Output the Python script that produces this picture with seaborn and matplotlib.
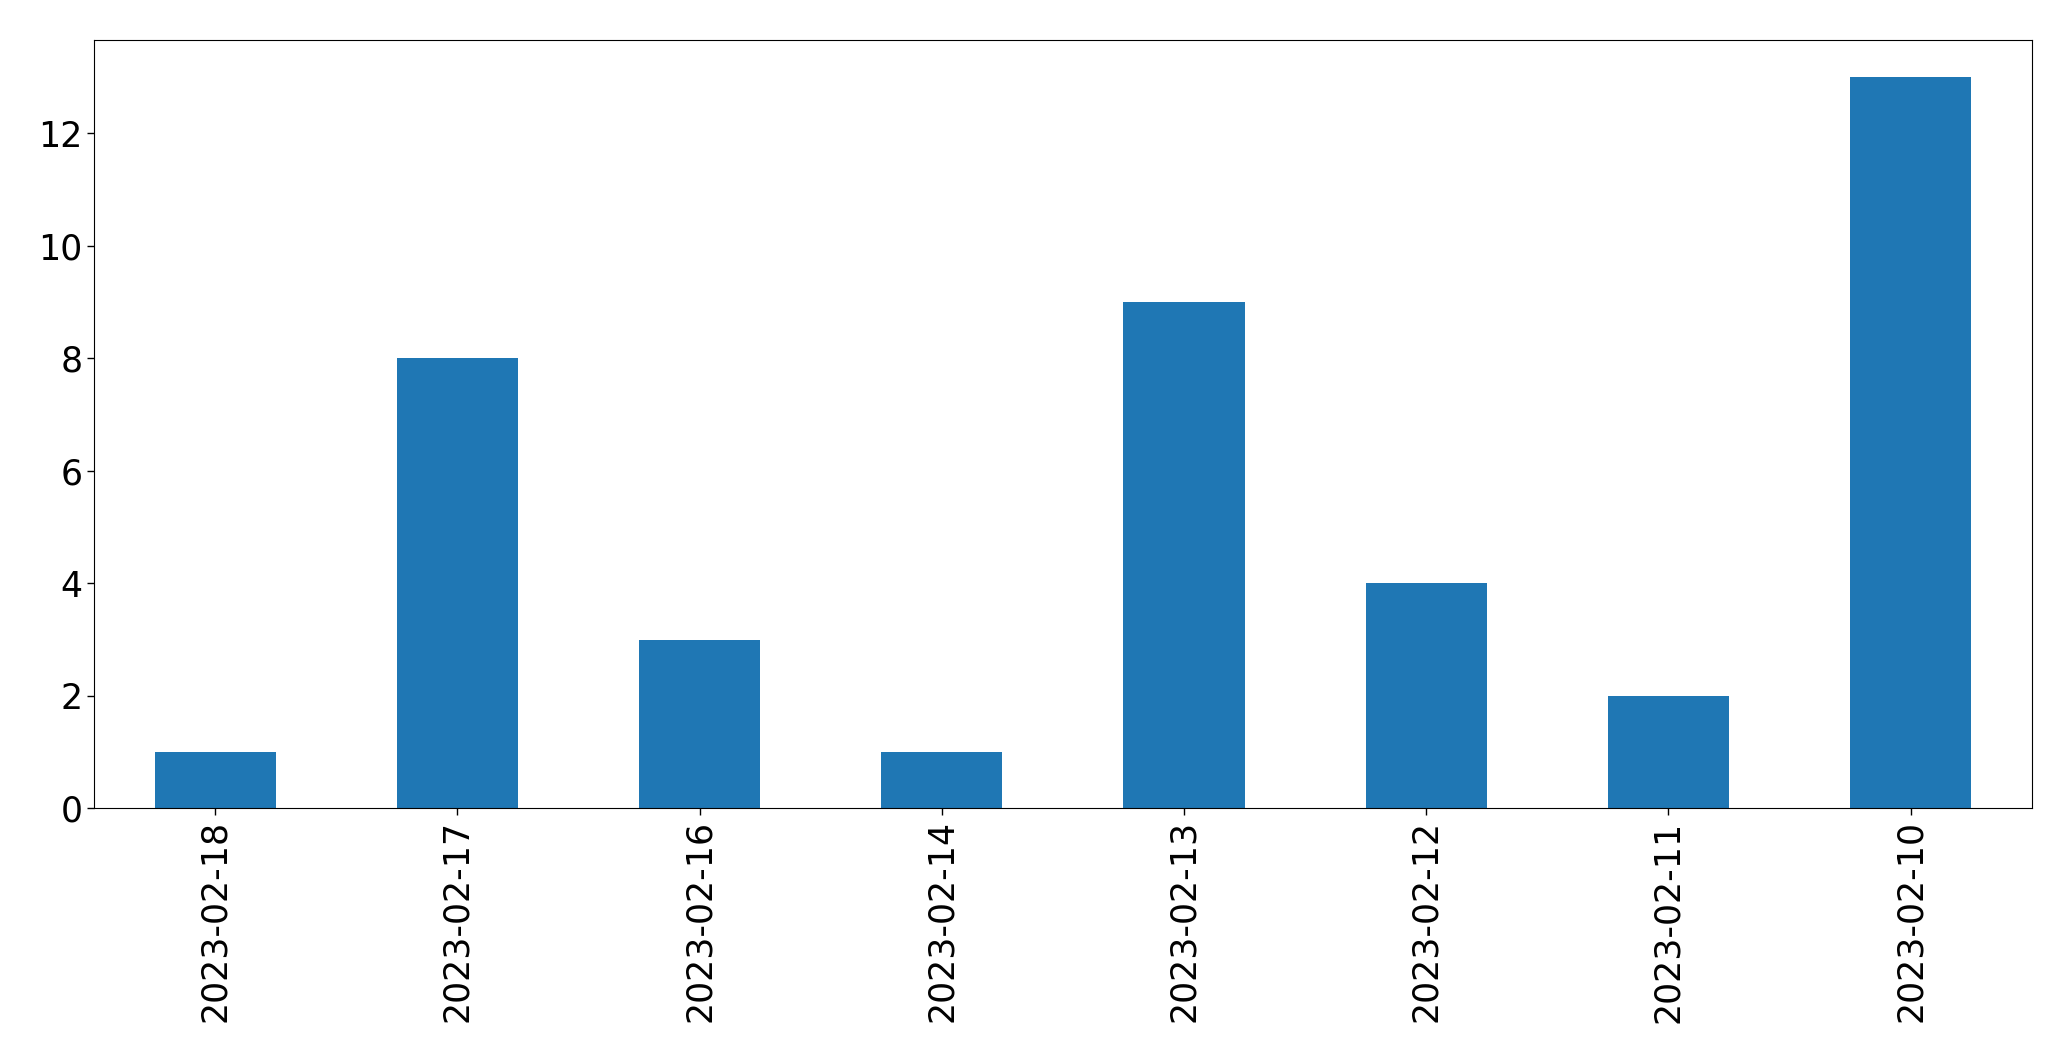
import matplotlib
matplotlib.use('Agg')
import matplotlib.pyplot as plt
import seaborn as sns
import pandas as pd

# dados
datas = ['2023-02-18', '2023-02-17', '2023-02-16', '2023-02-14',
         '2023-02-13', '2023-02-12', '2023-02-11', '2023-02-10']
quantidade = [1, 8, 3, 1, 9, 4, 2, 13]

df = pd.DataFrame({'data': datas, 'quantidade': quantidade})

sns.set_style('white')
fig, ax = plt.subplots(figsize=(20.71, 10.61), dpi=100)
sns.barplot(data=df, x='data', y='quantidade', order=datas, color='#1f77b4',
            saturation=1, width=0.5, linewidth=0, ax=ax)
ax.set(xlabel='', ylabel='')
ax.set_xlim(-0.5, len(datas) - 0.5)
ax.set_ylim(0, 13.65)
ax.tick_params(axis='x', rotation=90, labelsize=25, length=5, width=1,
               bottom=True, colors='black')
ax.tick_params(axis='y', labelsize=25, length=5, width=1, left=True, colors='black')
for s in ax.spines.values():
    s.set_visible(True)
    s.set_color('black')
    s.set_linewidth(0.8)
plt.subplots_adjust(left=0.0455, right=0.981, top=0.962, bottom=0.238)
plt.savefig('out.png', dpi=100)
